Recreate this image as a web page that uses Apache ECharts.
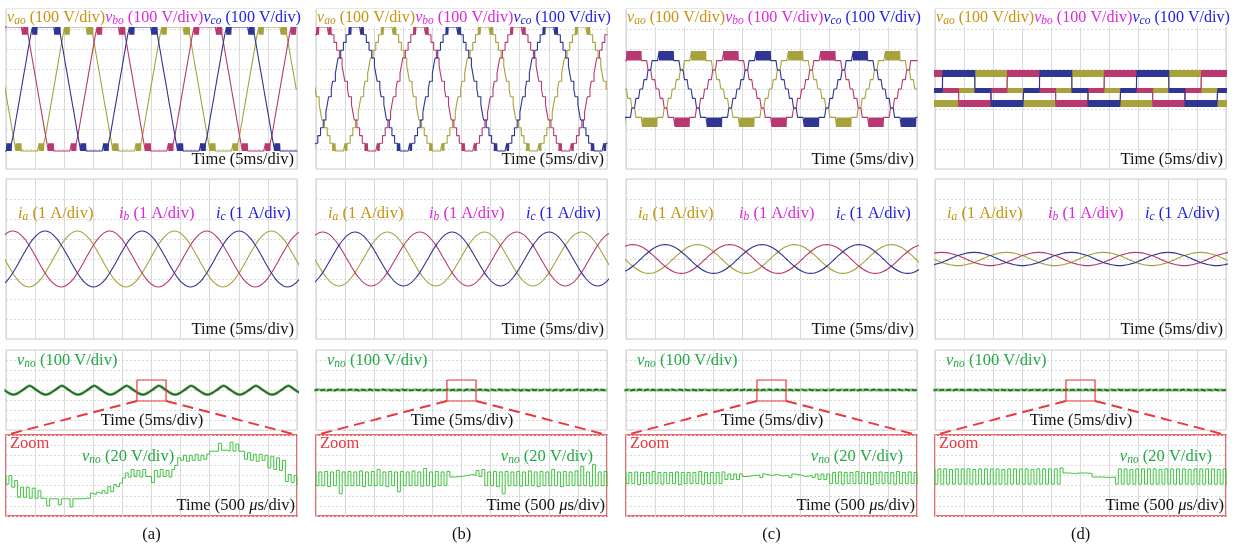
<!DOCTYPE html>
<html><head><meta charset="utf-8">
<script src="https://cdn.jsdelivr.net/npm/echarts/dist/echarts.min.js"></script>
<style>html,body{margin:0;padding:0;background:#fff}#c{width:1246px;height:550px}</style>
</head><body><div id="c"></div>
<script>
// ================= DATA =================
const panelNames = ['(a)', '(b)', '(c)', '(d)'];
const fundamentalPeriodMs = 16.667;          // 60 Hz, 3 cycles on a 50 ms screen
const thirdHarmonicPeriodMs = 5.556;
const screenMs = [0, 50];
const zoomWindowMs = [22.5, 27.5];
const zoomBoxV = [-110, 100];

// time of the v_ao rising zero crossing on screen (ms)
const vZeroMs = [8.3, 8.3, 8.3, 5.6];
// time of the i_a rising zero crossing on screen (ms)
const iZeroMs = [8.1, 8.1, 8.1, 8.1];
// time of the first v_no sample (ms)
const vnoStartMs = [1.28, 0, 0, 0];

// phase voltage v_ao, one period, 72 slots of 5 deg from the rising zero crossing (V); [lo,hi] = PWM band
const vShapeA = [0, 39, 78, 116, 155, 194, 233, 271, [271, 310], [271, 310], [271, 310], [271, 310],
  310, 310, 310, 310, 310, 310, 310, 310, 310, 310, 310, 310, 310,
  [271, 310], [271, 310], [271, 310], [271, 310], 271, 233, 194, 155, 116, 78, 39,
  0, -39, -78, -116, -155, -194, -233, -271, [-310, -271], [-310, -271], [-310, -271], [-310, -271],
  -310, -310, -310, -310, -310, -310, -310, -310, -310, -310, -310, -310, -310,
  [-310, -271], [-310, -271], [-310, -271], [-310, -271], -271, -233, -194, -155, -116, -78, -39];
const vShapeB = [0, 39, 39, 78, 116, 155, 155, 194, 194, 233, 233, 271, 271, [271, 310], [271, 310],
  310, 310, 310, 310, 310, 310, 310,
  [271, 310], [271, 310], 271, 271, 233, 233, 194, 194, 155, 155, 116, 78, 39, 39,
  0, -39, -39, -78, -116, -155, -155, -194, -194, -233, -233, -271, -271, [-310, -271], [-310, -271],
  -310, -310, -310, -310, -310, -310, -310,
  [-310, -271], [-310, -271], -271, -271, -233, -233, -194, -194, -155, -155, -116, -78, -39, -39];
const vShapeC = [0, 0, 47, 47, 47, 95, 95, 95, 142, 142, 142, 142, 142,
  [142, 190], [142, 190], [142, 190], [142, 190], [142, 190], [142, 190], [142, 190], [142, 190], [142, 190], [142, 190], [142, 190],
  142, 142, 142, 142, 142, 95, 95, 95, 47, 47, 47, 0,
  0, 0, -47, -47, -47, -95, -95, -95, -142, -142, -142, -142, -142,
  [-190, -142], [-190, -142], [-190, -142], [-190, -142], [-190, -142], [-190, -142], [-190, -142], [-190, -142], [-190, -142], [-190, -142], [-190, -142],
  -142, -142, -142, -142, -142, -95, -95, -95, -47, -47, -47, 0];
const vShapeD = [[-20, 5], [-20, 5], [-20, 5], [-20, 5], [-20, 5], [-20, 5],
  [60, 95], [60, 95], [60, 95], [60, 95], [60, 95], [60, 95], [60, 95], [60, 95], [60, 95], [60, 95], [60, 95], [60, 95],
  [60, 95], [60, 95], [60, 95], [60, 95], [60, 95], [60, 95], [60, 95], [60, 95], [60, 95], [60, 95], [60, 95], [60, 95],
  [-20, 5], [-20, 5], [-20, 5], [-20, 5], [-20, 5], [-20, 5], [-20, 5], [-20, 5], [-20, 5], [-20, 5], [-20, 5], [-20, 5],
  [-90, -55], [-90, -55], [-90, -55], [-90, -55], [-90, -55], [-90, -55], [-90, -55], [-90, -55], [-90, -55], [-90, -55], [-90, -55], [-90, -55],
  [-90, -55], [-90, -55], [-90, -55], [-90, -55], [-90, -55], [-90, -55], [-90, -55], [-90, -55], [-90, -55], [-90, -55], [-90, -55], [-90, -55],
  [-20, 5], [-20, 5], [-20, 5], [-20, 5], [-20, 5], [-20, 5]];

// phase current i_a, one period, 24 samples of 15 deg from the rising zero crossing (A)
const iShapeA = [0, 0.36, 0.70, 0.99, 1.21, 1.35, 1.40, 1.35, 1.21, 0.99, 0.70, 0.36, 0, -0.36, -0.70, -0.99, -1.21, -1.35, -1.40, -1.35, -1.21, -0.99, -0.70, -0.36];
const iShapeB = [0, 0.35, 0.68, 0.95, 1.17, 1.30, 1.35, 1.30, 1.17, 0.95, 0.68, 0.35, 0, -0.35, -0.68, -0.95, -1.17, -1.30, -1.35, -1.30, -1.17, -0.95, -0.68, -0.35];
const iShapeC = [0, 0.19, 0.36, 0.51, 0.62, 0.70, 0.72, 0.70, 0.62, 0.51, 0.36, 0.19, 0, -0.19, -0.36, -0.51, -0.62, -0.70, -0.72, -0.70, -0.62, -0.51, -0.36, -0.19];
const iShapeD = [0, 0.09, 0.17, 0.23, 0.29, 0.32, 0.33, 0.32, 0.29, 0.23, 0.17, 0.09, 0, -0.09, -0.17, -0.23, -0.29, -0.32, -0.33, -0.32, -0.29, -0.23, -0.17, -0.09];

// common-mode voltage v_no on the 5 ms/div screen, one third-harmonic period, 12 samples (V)
const vnoMainA = [-46, -40, -26, -8, 10, 30, 42, 30, 10, -8, -26, -40];
const vnoMainB = [0, 4, -3, 2, -5, 3, 0, -4, 5, -2, 3, -3];
const vnoMainC = [0, 3, -4, 2, -3, 4, 0, -3, 4, -2, 3, -2];
const vnoMainD = [0, 3, -3, 2, -4, 3, 0, -3, 4, -2, 2, -3];

// v_no in the zoom window, 50 slots of 0.1 ms (V); [lo,hi] = switching pulse
const zoomA = [[-17, 0], [-23, -10], [-43, -23], [-43, -23], [-45, -25], [-45, -30], -45, [-60, -46], -46, [-58, -46],
               -46, [-62, -46], -46, -45, [-45, -35], [-38, -33], [-36, -30], [-35, -22], [-32, -18], [-22, -15],
               [-5, 5], [-3, 12], [-2, 10], [-3, 12], -2, [-14, 10], [-3, 12], [-2, 10], [-3, 12], [20, 35],
               [30, 40], [28, 40], [30, 42], [30, 40], [32, 42], 48, [48, 64], 50, [48, 66], [48, 62],
               48, [32, 45], [30, 42], [28, 42], [30, 40], [15, 38], [12, 35], [10, 30], [-12, 2], [-14, 0]];
const zoomB = [[-20, 7], [-20, 8], [-22, 7], [-20, 10], [-36, 7], [-20, 8], [-20, 7], [-20, 9], [-22, 7], [-20, 8],
               [-20, 12], [-20, 7], [-22, 8], [-20, 7], [-32, 8], [-20, 7], [-20, 9], [-20, 7], [-21, 14], [-20, 7],
               [-22, 8], [-20, 7], [-20, 8], -3, -2, 0, 2, [0, 10], [-2, 12], [-20, 7],
               [-20, 8], [-22, 7], [-36, 8], [-20, 7], [-20, 8], [-21, 7], [-20, 9], [-20, 7], [-22, 8], [-20, 7],
               [-20, 12], [-20, 7], [-22, 8], [-20, 7], [-20, 9], [-20, 18], [-20, 7], [-21, 22], [-20, 7], [-20, 8]];
const zoomC = [[-16, 6], [-16, 7], [-18, 6], [-16, 6], [-16, 8], [-16, 6], [-17, 6], [-16, 6], [-16, 7], [-18, 6],
               [-16, 6], [-16, 6], [-16, 8], [-17, 6], [-16, 6], [-16, 6], [-16, 7], [-8, 3], [-8, 3], [-8, 3],
               -2, 0, 1, [-4, 3], 0, 2, -1, 0, [-4, 3], 1, -2, 0, [-4, 3], [-8, 3], [-8, 3], [-16, 6], [-16, 7], [-17, 6], [-16, 6], [-16, 8],
               [-16, 6], [-16, 6], [-18, 6], [-16, 7], [-16, 6], [-16, 6], [-17, 8], [-16, 6], [-16, 7], [-16, 6]];
const zoomD = [[-17, 13], [-17, 13], [-17, 12], [-17, 13], [-17, 13], [-17, 13], [-17, 12], [-17, 13], [-17, 13], [-17, 13],
               [-17, 13], [-17, 12], [-17, 13], [-17, 13], [-17, 13], [-17, 13], [-17, 12], [-17, 13], [-17, 13], [-17, 13],
               [-17, 13], [-17, 15], 5, 4, 5, 5, 4, -3, -3, -4,
               -3, [-17, 13], [-17, 13], [-17, 12], [-17, 13], [-17, 13], [-17, 13], [-17, 13], [-17, 12], [-17, 13],
               [-17, 13], [-17, 13], [-17, 13], [-17, 12], [-17, 13], [-17, 13], [-17, 13], [-17, 13], [-17, 12], [-17, 13]];

const vShapes = [vShapeA, vShapeB, vShapeC, vShapeD];
const iShapes = [iShapeA, iShapeB, iShapeC, iShapeD];
const vnoMains = [vnoMainA, vnoMainB, vnoMainC, vnoMainD];
const zoomTraces = [zoomA, zoomB, zoomC, zoomD];

// ================= STYLE / LAYOUT =================
const FONT = '"Liberation Serif", "Times New Roman", serif';
const FS = 16.5;
const FS_TOP = 16.1;
const colLeft = [6, 316, 626, 935];
const panelW = 291;
const rows = { v: [9, 160], i: [179, 160], n: [350, 80], z: [435, 81] };
const trace = { a: '#a7a23c', b: '#b8386f', c: '#2f3592' };
const labelCol = { a: '#c8920e', b: '#dc28dc', c: '#2020e0', n: '#22aa44', zoom: '#e8383d' };
const gridLine = '#d9d9d9';

function stairPoints(shape, t0, period, tMin, tMax, pulses) {
  const N = shape.length, dt = period / N, pts = [];
  let k = Math.floor((tMin - t0) / dt) - 1;
  while (true) {
    const ts = t0 + (k - 0.5) * dt, te = ts + dt;
    if (ts > tMax) break;
    const v = shape[((k % N) + N) % N];
    if (Array.isArray(v)) {
      const m = pulses * 2, sub = dt / m;
      for (let j = 0; j < m; j++) { const val = v[j % 2]; pts.push([ts + j * sub, val], [ts + (j + 1) * sub, val]); }
    } else pts.push([ts, v], [te, v]);
    k++;
  }
  return pts;
}
function periodicPoints(shape, t0, period, tMin, tMax) {
  const N = shape.length, dt = period / N, pts = [];
  let k = Math.floor((tMin - t0) / dt) - 1;
  while (true) {
    const t = t0 + k * dt;
    if (t > tMax + dt) break;
    pts.push([t, shape[((k % N) + N) % N]]);
    k++;
  }
  return pts;
}

const grids = [], xAxes = [], yAxes = [], series = [], graphics = [];
function addGrid(left, row, xr, xi, yr, yi, border, bw) {
  const idx = grids.length;
  grids.push({ left: left, top: rows[row][0], width: panelW, height: rows[row][1], show: true,
    borderColor: border, borderWidth: bw, backgroundColor: 'transparent', containLabel: false });
  const axBase = { axisLine: { show: false }, axisTick: { show: false }, axisLabel: { show: false } };
  xAxes.push(Object.assign({ gridIndex: idx, type: 'value', min: xr[0], max: xr[1], interval: xi,
    splitLine: { show: true, lineStyle: { color: gridLine, width: 1 } } }, axBase));
  yAxes.push(Object.assign({ gridIndex: idx, type: 'value', min: yr[0], max: yr[1], interval: yi,
    splitLine: { show: true, lineStyle: { color: gridLine, width: 1, type: [2, 2] } } }, axBase));
  return idx;
}
function line(gi, data, color, width, extra) {
  series.push(Object.assign({ type: 'line', xAxisIndex: gi, yAxisIndex: gi, data: data, showSymbol: false,
    symbol: 'none', animation: false, silent: true, lineStyle: { color: color, width: width } }, extra || {}));
}
function symLabel(items, x, y, align, bg, fs) {
  const f = fs || FS;
  let text = '', rich = {};
  items.forEach((it, n) => {
    rich['m' + n] = { fontFamily: FONT, fontSize: f, fontStyle: 'italic', fill: it.color, lineHeight: 18 };
    rich['s' + n] = { fontFamily: FONT, fontSize: 11.5, fontStyle: 'italic', fill: it.color, lineHeight: 9, verticalAlign: 'bottom' };
    rich['t' + n] = { fontFamily: FONT, fontSize: f, fill: it.color, lineHeight: 18 };
    text += '{m' + n + '|' + it.sym + '}{s' + n + '|' + it.sub + '}{t' + n + '|' + it.rest + '}';
  });
  const st = { x: x, y: y, text: text, rich: rich, align: align || 'left', verticalAlign: 'middle' };
  if (bg) { st.backgroundColor = '#fff'; }
  graphics.push({ type: 'text', z: 100, style: st });
}
function plainText(txt, x, y, color, align) {
  graphics.push({ type: 'text', z: 100, style: { x: x, y: y, text: txt, fill: color, align: align,
    verticalAlign: 'middle', font: FS + 'px ' + FONT } });
}

const zoomGridIdx = [], vnoGridIdx = [];
panelNames.forEach((name, ci) => {
  const L = colLeft[ci], T = fundamentalPeriodMs;
  // ---- phase voltages
  const gv = addGrid(L, 'v', screenMs, 5, [-400, 400], 100, '#cfcfcf', 1);
  const v0 = vZeroMs[ci];
  line(gv, stairPoints(vShapes[ci], v0, T, 0, 50, 2), trace.a, 1.1);
  line(gv, stairPoints(vShapes[ci], v0 + T / 3, T, 0, 50, 2), trace.b, 1.1);
  line(gv, stairPoints(vShapes[ci], v0 + 2 * T / 3, T, 0, 50, 2), trace.c, 1.1);
  symLabel([{ sym: 'v', sub: 'ao', rest: ' (100 V/div)', color: labelCol.a },
            { sym: 'v', sub: 'bo', rest: ' (100 V/div)', color: labelCol.b },
            { sym: 'v', sub: 'co', rest: ' (100 V/div)', color: labelCol.c }], L + 1, 18, 'left', true, FS_TOP);
  plainText('Time (5ms/div)', L + panelW - 3, 160, '#111', 'right');
  // ---- phase currents
  const gc = addGrid(L, 'i', screenMs, 5, [-4, 4], 1, '#cfcfcf', 1);
  const i0 = iZeroMs[ci];
  line(gc, periodicPoints(iShapes[ci], i0, T, 0, 50), trace.a, 1.1, { smooth: 0.4 });
  line(gc, periodicPoints(iShapes[ci], i0 + T / 3, T, 0, 50), trace.b, 1.1, { smooth: 0.4 });
  line(gc, periodicPoints(iShapes[ci], i0 + 2 * T / 3, T, 0, 50), trace.c, 1.1, { smooth: 0.4 });
  symLabel([{ sym: 'i', sub: 'a', rest: ' (1 A/div)', color: labelCol.a }], L + 12, 214);
  symLabel([{ sym: 'i', sub: 'b', rest: ' (1 A/div)', color: labelCol.b }], L + 113, 214);
  symLabel([{ sym: 'i', sub: 'c', rest: ' (1 A/div)', color: labelCol.c }], L + 210, 214);
  plainText('Time (5ms/div)', L + panelW - 3, 330, '#111', 'right');
  // ---- common-mode voltage
  const gn = addGrid(L, 'n', screenMs, 5, [-400, 400], 100, '#cfcfcf', 1);
  vnoGridIdx.push(gn);
  const vnoPts = periodicPoints(vnoMains[ci], vnoStartMs[ci], thirdHarmonicPeriodMs, 0, 50);
  line(gn, vnoPts, '#7ccf7c', 3, { smooth: ci === 0 ? 0.3 : false });
  line(gn, vnoPts, '#2c5a2c', 1.6, ci === 0 ? { smooth: 0.3 } : { lineStyle: { color: '#2c5a2c', width: 1.6, type: [5, 2] } });
  line(gn, [[zoomWindowMs[0], zoomBoxV[0]], [zoomWindowMs[1], zoomBoxV[0]], [zoomWindowMs[1], zoomBoxV[1]],
            [zoomWindowMs[0], zoomBoxV[1]], [zoomWindowMs[0], zoomBoxV[0]]], labelCol.zoom, 1.2, { z: 10 });
  symLabel([{ sym: 'v', sub: 'no', rest: ' (100 V/div)', color: labelCol.n }], L + 11, 361);
  plainText('Time (5ms/div)', L + 146, 421, '#111', 'center');
  // ---- zoom
  const gz = addGrid(L, 'z', zoomWindowMs, 0.5, [-80, 80], 20, labelCol.zoom, 1.5);
  zoomGridIdx.push(gz);
  line(gz, stairPoints(zoomTraces[ci], zoomWindowMs[0] + 0.05, 5, zoomWindowMs[0], zoomWindowMs[1], 1), '#3fc43f', 1);
  plainText('Zoom', L + 4, 444, labelCol.zoom, 'left');
  if (ci === 0) symLabel([{ sym: 'v', sub: 'no', rest: ' (20 V/div)', color: labelCol.n }], L + 76, 457);
  else symLabel([{ sym: 'v', sub: 'no', rest: ' (20 V/div)', color: labelCol.n }], L + 277, 457, 'right');
  graphics.push({ type: 'text', z: 100, style: { x: L + panelW - 2, y: 506, align: 'right', verticalAlign: 'middle',
    text: '{t|Time (500 }{m|μ}{t|s/div)}', rich: { t: { fontFamily: FONT, fontSize: FS, fill: '#111' },
    m: { fontFamily: FONT, fontSize: FS, fontStyle: 'italic', fill: '#111' } } } });
  plainText(name, L + panelW / 2, 535, '#111', 'center');
});

const chart = echarts.init(document.getElementById('c'), null, { renderer: 'canvas' });
chart.setOption({ animation: false, backgroundColor: '#fff', grid: grids, xAxis: xAxes, yAxis: yAxes, series: series, graphic: graphics });

// dashed connectors from the zoom box to the zoom panel
const conn = [];
panelNames.forEach((n, ci) => {
  const p1 = chart.convertToPixel({ gridIndex: vnoGridIdx[ci] }, [zoomWindowMs[0], zoomBoxV[0]]);
  const p2 = chart.convertToPixel({ gridIndex: vnoGridIdx[ci] }, [zoomWindowMs[1], zoomBoxV[0]]);
  const q1 = chart.convertToPixel({ gridIndex: zoomGridIdx[ci] }, [zoomWindowMs[0], 80]);
  const q2 = chart.convertToPixel({ gridIndex: zoomGridIdx[ci] }, [zoomWindowMs[1], 80]);
  [[p1, q1], [p2, q2]].forEach(pq => conn.push({ type: 'line', z: 50,
    shape: { x1: pq[0][0], y1: pq[0][1], x2: pq[1][0], y2: pq[1][1] },
    style: { stroke: labelCol.zoom, lineWidth: 2, lineDash: [11, 6] } }));
});
chart.setOption({ graphic: graphics.concat(conn) });
</script></body></html>
